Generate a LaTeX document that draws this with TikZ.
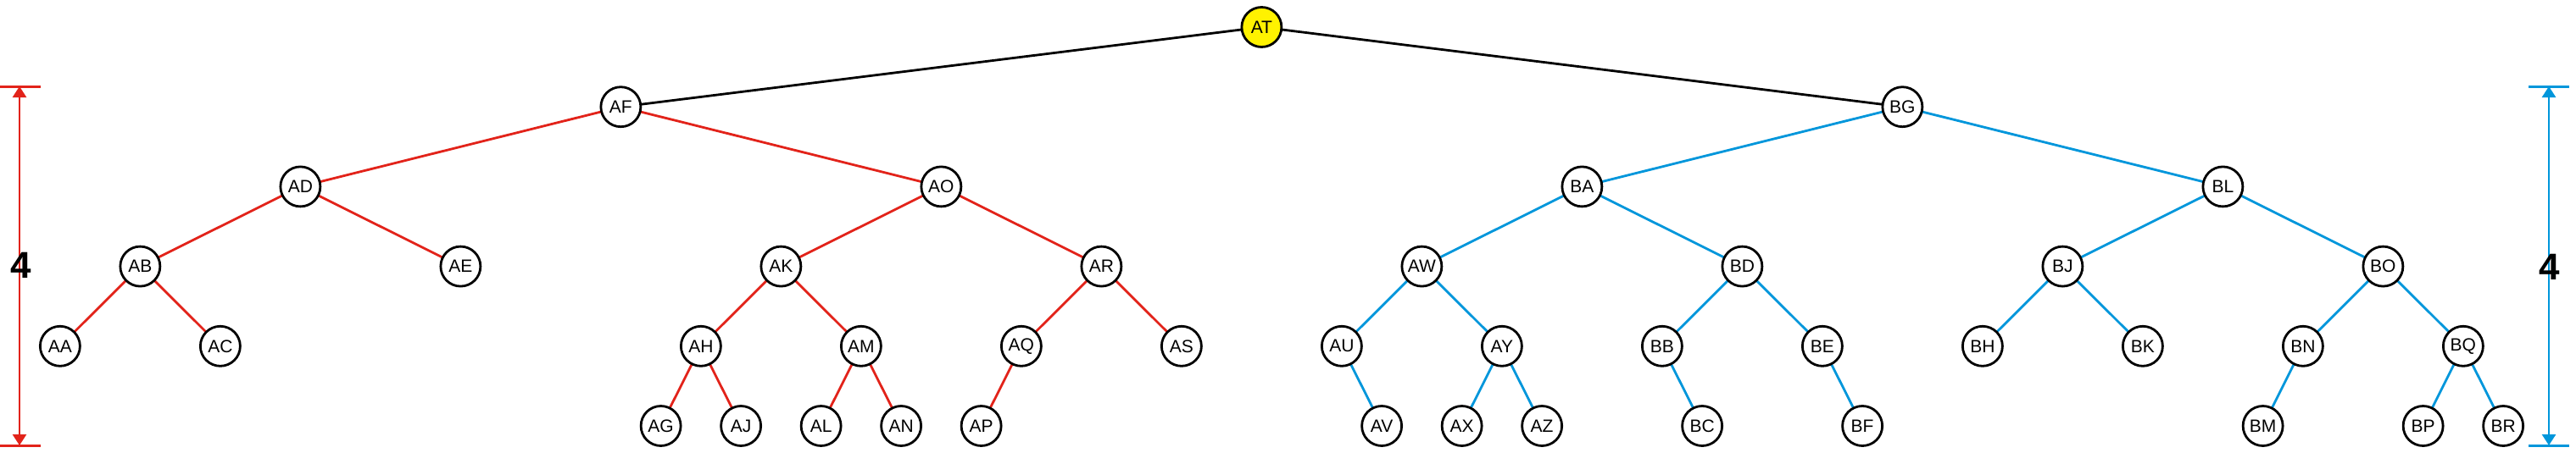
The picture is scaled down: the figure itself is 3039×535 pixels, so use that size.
\documentclass[tikz,border=0pt]{standalone}
\usepackage{fontspec}
\setmainfont{Liberation Sans}
\usetikzlibrary{arrows.meta}
\definecolor{tred}{HTML}{E2231A}
\definecolor{tblue}{HTML}{0096DB}
\definecolor{tyellow}{HTML}{FFF200}
\begin{document}
\begin{tikzpicture}[x=1pt,y=-1pt,
  tnode/.style={circle,draw=black,fill=white,line width=2.8pt,minimum size=47pt,inner sep=0pt,font=\fontsize{21}{21}\selectfont},
  redge/.style={draw=tred,line width=2.8pt},
  bedge/.style={draw=tblue,line width=2.8pt},
  kedge/.style={draw=black,line width=2.8pt},
  dimline/.style={line width=2.6pt,{Triangle[length=13pt,width=16pt]}-{Triangle[length=13pt,width=16pt]}},
  dimtick/.style={line width=3pt},
  dimlabel/.style={font=\fontsize{44}{44}\selectfont\bfseries,text=black,inner sep=0pt}]
\useasboundingbox (0,0) rectangle (3039,535);
\foreach \n/\k/\l in {AT/31/0,AF/15/1,BG/47/1,AD/7/2,AO/23/2,BA/39/2,BL/55/2,
  AB/3/3,AE/11/3,AK/19/3,AR/27/3,AW/35/3,BD/43/3,BJ/51/3,BO/59/3,
  AA/1/4,AC/5/4,AH/17/4,AM/21/4,AQ/25/4,AS/29/4,AU/33/4,AY/37/4,BB/41/4,BE/45/4,BH/49/4,BK/53/4,BN/57/4,BQ/61/4,
  AG/16/5,AJ/18/5,AL/20/5,AN/22/5,AP/24/5,AV/34/5,AX/36/5,AZ/38/5,BC/42/5,BF/46/5,BM/56/5,BP/60/5,BR/62/5}
  {\coordinate (c\n) at ({(\k+0.5)*47.25},{32+94.2*\l});}
\foreach \a/\b in {AT/AF,AT/BG} \draw[kedge] (c\a) -- (c\b);
\foreach \a/\b in {AF/AD,AF/AO,AD/AB,AD/AE,AB/AA,AB/AC,AO/AK,AO/AR,AK/AH,AK/AM,AH/AG,AH/AJ,AM/AL,AM/AN,AR/AQ,AR/AS,AQ/AP}
  \draw[redge] (c\a) -- (c\b);
\foreach \a/\b in {BG/BA,BG/BL,BA/AW,BA/BD,AW/AU,AW/AY,AU/AV,AY/AX,AY/AZ,BD/BB,BD/BE,BB/BC,BE/BF,BL/BJ,BL/BO,BJ/BH,BJ/BK,BO/BN,BO/BQ,BN/BM,BQ/BP,BQ/BR}
  \draw[bedge] (c\a) -- (c\b);
\node[tnode,fill=tyellow] (AT) at (cAT) {AT};
\foreach \n in {AF,BG,AD,AO,BA,BL,AB,AE,AK,AR,AW,BD,BJ,BO,AA,AC,AH,AM,AQ,AS,AU,AY,BB,BE,BH,BK,BN,BQ,AG,AJ,AL,AN,AP,AV,AX,AZ,BC,BF,BM,BP,BR}
  \node[tnode] (\n) at (c\n) {\n};
\coordinate (lt) at (23,102);
\coordinate (lb) at (23,526);
\draw[tred,dimtick] (0,102) -- (48,102);
\draw[tred,dimtick] (0,526) -- (48,526);
\draw[tred,dimline] (lt) -- (lb);
\node[dimlabel] (lfour) at (25,313) {4};
\coordinate (rt) at (3007,102);
\coordinate (rb) at (3007,526);
\draw[tblue,dimtick] (2983,102) -- (3031,102);
\draw[tblue,dimtick] (2983,526) -- (3031,526);
\draw[tblue,dimline] (rt) -- (rb);
\node[dimlabel] (rfour) at (3008,315) {4};
\end{tikzpicture}
\end{document}
